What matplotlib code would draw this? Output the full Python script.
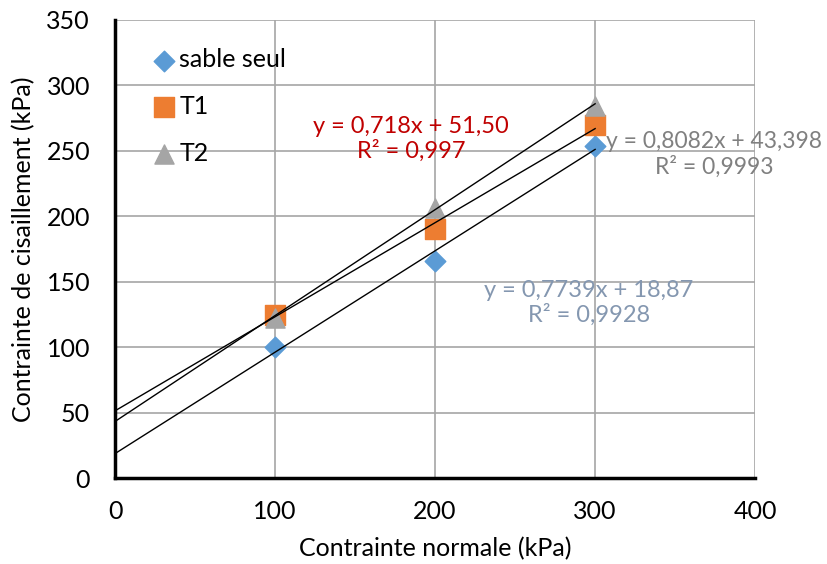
import numpy as np
import matplotlib
matplotlib.use("Agg")
import matplotlib.pyplot as plt

plt.rcParams["font.family"] = ["Lato", "DejaVu Sans"]

# données
contrainte_normale = [100, 200, 300]
sable_seul = [100, 166, 254]
t1 = [125, 190, 270]
t2 = [122, 206, 284]

# droites de tendance (pente, ordonnée à l'origine)
fit_sable = (0.7739, 18.87)
fit_t1 = (0.718, 51.50)
fit_t2 = (0.8082, 43.398)

fig = plt.figure(figsize=(8.28, 5.64), dpi=100)
ax = fig.add_axes([0.139, 0.152, 0.773, 0.813])

ax.grid(True, color="#A6A6A6", linewidth=1.2, zorder=0)
ax.set_axisbelow(True)

ax.scatter(contrainte_normale, sable_seul, marker="D", s=110, c="#5B9BD5", label="sable seul", zorder=3)
ax.scatter(contrainte_normale, t1, marker="s", s=190, c="#ED7D31", label="T1", zorder=3)
ax.scatter(contrainte_normale, t2, marker="^", s=190, c="#A5A5A5", label="T2", zorder=4)

xs = np.array([0, 300])
for a, b in (fit_sable, fit_t1, fit_t2):
    ax.plot(xs, a * xs + b, color="black", linewidth=1.0, zorder=5)

ax.text(185, 259, "y = 0,718x + 51,50\nR² = 0,997", color="#C00000", fontsize=17,
        ha="center", va="center", linespacing=1.15, zorder=6)
ax.text(374.5, 247, "y = 0,8082x + 43,398\nR² = 0,9993", color="#808080", fontsize=16.5,
        ha="center", va="center", linespacing=1.2, zorder=6, clip_on=False)
ax.text(296, 134, "y = 0,7739x + 18,87\nR² = 0,9928", color="#8497B0", fontsize=17,
        ha="center", va="center", linespacing=1.15, zorder=6)

ax.set_xlim(0, 400)
ax.set_ylim(0, 350)
ax.set_xticks(range(0, 401, 100))
ax.set_yticks(range(0, 351, 50))
ax.tick_params(length=0, labelsize=18)
ax.tick_params(axis="y", pad=18)
ax.tick_params(axis="x", pad=16)
for s in ("top", "right"):
    ax.spines[s].set_visible(False)
for s in ("left", "bottom"):
    ax.spines[s].set_linewidth(2.5)

ax.set_xlabel("Contrainte normale (kPa)", fontsize=18, labelpad=10)
ax.set_ylabel("Contrainte de cisaillement (kPa)", fontsize=18, labelpad=8)

ax.legend(loc="upper left", bbox_to_anchor=(0.03, 0.96), frameon=False, fontsize=18,
          labelspacing=0.95, handlelength=1.6, handletextpad=-0.2, borderaxespad=0)

fig.savefig("out.png", dpi=100)
